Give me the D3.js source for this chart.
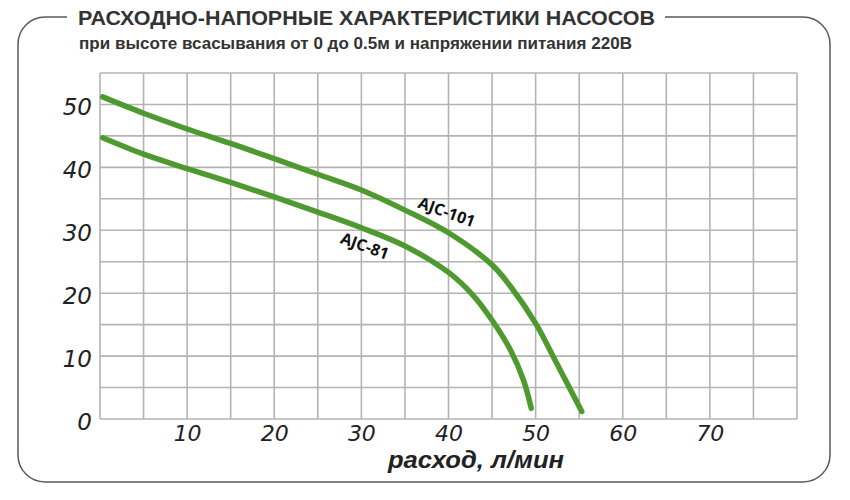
<!DOCTYPE html>
<html><head><meta charset="utf-8">
<script src="https://cdn.jsdelivr.net/npm/d3@7"></script>
<style>html,body{margin:0;padding:0;background:#fff}</style>
</head><body>
<svg id="c" width="850" height="500"></svg>
<script>
const title = "РАСХОДНО-НАПОРНЫЕ ХАРАКТЕРИСТИКИ НАСОСОВ";
const subtitle = "при высоте всасывания от 0 до 0.5м и напряжении питания 220В";
const xTitle = "расход, л/мин";
const xTicks = [10,20,30,40,50,60,70];
const yTicks = [0,10,20,30,40,50];
const seriesNames = ["AJC-101","AJC-81"];
const flow101 = [0.3,5,10,15,20,25,30,35,40,45,47.1,50,52.4,55.3];
const head101 = [51.2,48.6,46.1,43.8,41.4,38.9,36.4,33.2,29.6,24.5,21.1,15.2,8.9,1.2];
const flow81 = [0.3,5,10,15,20,25,30,35,40,42.8,45,47.1,48.6,49.5];
const head81 = [44.7,42.1,39.8,37.6,35.3,32.9,30.4,27.5,23.3,19.7,15.7,11.0,6.2,1.7];
const labelFlow = [39.8,30.4];
const labelHead = [32.9,27.5];

const svg = d3.select("#c");
const x = d3.scaleLinear().domain([0,80]).range([100,797]);
const y = d3.scaleLinear().domain([0,55]).range([419,73]);

// frame
const L=18,T=17,R=830,B=482,r=27;
const fp = d3.path();
fp.moveTo(67,T); fp.lineTo(L+r,T); fp.arcTo(L,T,L,T+r,r); fp.lineTo(L,B-r);
fp.arcTo(L,B,L+r,B,r); fp.lineTo(R-r,B); fp.arcTo(R,B,R,B-r,r); fp.lineTo(R,T+r);
fp.arcTo(R,T,R-r,T,r); fp.lineTo(665,T);
svg.append("path").attr("d",fp.toString()).attr("fill","none").attr("stroke","#5a5a5a").attr("stroke-width",1.5);

svg.append("text").attr("x",78).attr("y",25).text(title)
  .attr("font-family","'Liberation Sans Narrow','Liberation Sans',Arial,sans-serif")
  .attr("font-weight","bold").attr("font-size",21).attr("fill","#333")
  .attr("textLength",577).attr("lengthAdjust","spacingAndGlyphs");
svg.append("text").attr("x",79).attr("y",49).text(subtitle)
  .attr("font-family","'Liberation Sans Narrow','Liberation Sans',Arial,sans-serif")
  .attr("font-weight","bold").attr("font-size",17).attr("fill","#333")
  .attr("textLength",553).attr("lengthAdjust","spacingAndGlyphs");

// grid
const g = svg.append("g");
const xGrid = d3.range(0,81,5), yGrid = d3.range(0,56,5);
g.selectAll("line.v").data(xGrid).join("line").attr("class","v")
  .attr("x1",d=>x(d)).attr("x2",d=>x(d)).attr("y1",y(0)).attr("y2",y(55))
  .attr("stroke","#b3b3b3").attr("stroke-width",1.6);
g.selectAll("line.h").data(yGrid).join("line").attr("class","h")
  .attr("y1",d=>y(d)).attr("y2",d=>y(d)).attr("x1",x(0)).attr("x2",x(80))
  .attr("stroke","#b3b3b3").attr("stroke-width",1.6);

// axes labels
const tickFont = "'DejaVu Sans',sans-serif";
const xa = svg.append("g").attr("transform",`translate(0,${y(0)})`)
  .call(d3.axisBottom(x).tickValues(xTicks).tickSize(0).tickPadding(6));
xa.select(".domain").remove();
xa.selectAll("text").attr("font-family",tickFont)
  .attr("font-style","italic").attr("font-size",22).attr("fill","#222").attr("dy","0.71em");
const ya = svg.append("g").attr("transform",`translate(${x(0)},0)`)
  .call(d3.axisLeft(y).tickValues(yTicks).tickSize(0).tickPadding(8));
ya.select(".domain").remove();
ya.selectAll("text").attr("font-family",tickFont)
  .attr("font-style","italic").attr("font-size",23).attr("fill","#222").attr("dy","0.45em");

svg.append("text").attr("x",476).attr("y",468).attr("text-anchor","middle").text(xTitle)
  .attr("font-family","'Liberation Sans',Arial,sans-serif").attr("font-weight","bold")
  .attr("font-style","italic").attr("font-size",24).attr("fill","#222")
  .attr("textLength",176).attr("lengthAdjust","spacingAndGlyphs");

// curves
const line = d3.line().x(d=>x(d[0])).y(d=>y(d[1])).curve(d3.curveCatmullRom);
const series = [d3.zip(flow101,head101), d3.zip(flow81,head81)];
svg.selectAll("path.curve").data(series).join("path").attr("class","curve")
  .attr("d",line).attr("fill","none").attr("stroke","#4f9a30")
  .attr("stroke-width",5.5).attr("stroke-linecap","round").attr("stroke-linejoin","round");

// curve labels
seriesNames.forEach((n,i)=>{
  svg.append("text").attr("transform",`translate(${x(labelFlow[i])},${y(labelHead[i])}) rotate(20)`)
    .attr("text-anchor","middle").attr("dy","0.35em").text(n)
    .attr("font-family","'Open Sans',sans-serif").attr("font-weight","bold")
    .attr("font-size",16).attr("fill","#111");
});
</script>
</body></html>
